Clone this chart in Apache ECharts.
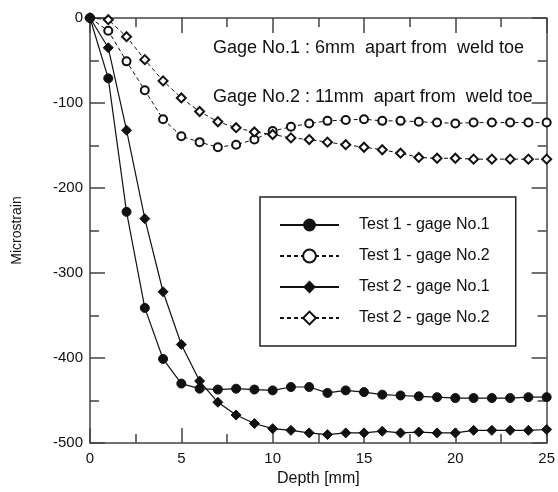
<!DOCTYPE html>
<html>
<head>
<meta charset="utf-8">
<script src="https://cdn.jsdelivr.net/npm/echarts@6/dist/echarts.min.js"></script>
<style>
  html, body { margin: 0; padding: 0; background: #fff; }
  #chart { width: 558px; height: 492px; }
</style>
</head>
<body>
<div id="chart"></div>
<script>
// depth along x, microstrain values
var depth = [0, 1, 2, 3, 4, 5, 6, 7, 8, 9, 10, 11, 12, 13, 14, 15, 16, 17, 18, 19, 20, 21, 22, 23, 24, 25];
var test1Gage1 = [0, -71, -228, -341, -401, -430, -436, -437, -436, -437, -438, -434, -434, -441, -438, -440, -443, -444, -445, -446, -447, -447, -447, -447, -446, -446];
var test1Gage2 = [0, -15, -51, -85, -119, -139, -146, -152, -149, -143, -133, -128, -124, -121, -120, -119, -121, -121, -122, -123, -124, -123, -123, -123, -123, -123];
var test2Gage1 = [0, -35, -132, -236, -322, -384, -427, -452, -467, -477, -483, -485, -488, -490, -488, -488, -486, -488, -487, -488, -488, -485, -485, -485, -485, -484];
var test2Gage2 = [0, -2, -22, -49, -74, -94, -110, -122, -129, -134, -137, -141, -143, -146, -149, -152, -155, -159, -164, -165, -165, -166, -166, -166, -166, -166];
var seriesNames = ['Test 1 - gage No.1', 'Test 1 - gage No.2', 'Test 2 - gage No.1', 'Test 2 - gage No.2'];
var notes = ['Gage No.1 : 6mm  apart from  weld toe', 'Gage No.2 : 11mm  apart from  weld toe'];

var font = 'Liberation Sans, Arial, sans-serif';
var ink = '#111';
var frame = '#444';

function pairs(arr) {
  return depth.map(function (d, i) { return [d, arr[i]]; });
}

var myChart = echarts.init(document.getElementById('chart'), null, { renderer: 'canvas' });

// axis look shared by the four sides (ticks pointing in)
function sideAxis(extra) {
  return Object.assign({
    axisLine: { show: true, onZero: false, lineStyle: { color: frame, width: 1.5 } },
    axisTick: { show: true, inside: true, length: 15, lineStyle: { color: frame, width: 1.5 } },
    minorTick: { show: true, splitNumber: 2, length: 9, lineStyle: { color: frame, width: 1.5 } },
    splitLine: { show: false },
    minorSplitLine: { show: false }
  }, extra);
}

var option = {
  backgroundColor: '#fff',
  animation: false,
  grid: { left: 90, right: 6, top: 18, bottom: 41 },
  xAxis: [
    sideAxis({
      type: 'value', min: 0, max: 25, interval: 5, position: 'bottom',
      name: 'Depth [mm]', nameLocation: 'middle', nameGap: 26,
      nameTextStyle: { fontFamily: font, fontSize: 16, color: ink },
      axisLabel: { fontFamily: font, fontSize: 15, color: ink, margin: 8 }
    }),
    sideAxis({
      type: 'value', min: 0, max: 25, interval: 5, position: 'top',
      axisLabel: { show: false }
    })
  ],
  yAxis: [
    sideAxis({
      type: 'value', min: -500, max: 0, interval: 100, position: 'left',
      name: 'Microstrain', nameLocation: 'middle', nameGap: 66,
      nameTextStyle: { fontFamily: font, fontSize: 14, color: ink },
      axisLabel: { fontFamily: font, fontSize: 15, color: ink, margin: 7 }
    }),
    sideAxis({
      type: 'value', min: -500, max: 0, interval: 100, position: 'right',
      axisLabel: { show: false }
    })
  ],
  legend: {
    orient: 'vertical',
    left: 260,
    top: 197,
    padding: [20, 26, 20, 19],
    borderColor: '#222',
    borderWidth: 1.5,
    itemWidth: 59,
    itemHeight: 16,
    itemGap: 15,
    textStyle: { fontFamily: font, fontSize: 16, color: ink, padding: [0, 0, 0, 15] },
    data: seriesNames
  },
  graphic: [
    { type: 'text', x: 213, y: 48, style: { text: notes[0], font: '18px ' + font, fill: ink, verticalAlign: 'middle' } },
    { type: 'text', x: 213, y: 97, style: { text: notes[1], font: '18px ' + font, fill: ink, verticalAlign: 'middle' } }
  ],
  series: [
    {
      name: seriesNames[0], type: 'line', data: pairs(test1Gage1),
      symbol: 'circle', symbolSize: 9, z: 4,
      lineStyle: { color: ink, width: 1.2, type: 'solid' },
      itemStyle: { color: ink, borderColor: ink }
    },
    {
      name: seriesNames[1], type: 'line', data: pairs(test1Gage2),
      symbol: 'circle', symbolSize: 8, z: 3,
      lineStyle: { color: ink, width: 1, type: [4, 3] },
      itemStyle: { color: '#fff', borderColor: ink, borderWidth: 2 }
    },
    {
      name: seriesNames[2], type: 'line', data: pairs(test2Gage1),
      symbol: 'diamond', symbolSize: 10, z: 4,
      lineStyle: { color: ink, width: 1.2, type: 'solid' },
      itemStyle: { color: ink, borderColor: ink }
    },
    {
      name: seriesNames[3], type: 'line', data: pairs(test2Gage2),
      symbol: 'diamond', symbolSize: 9, z: 3,
      lineStyle: { color: ink, width: 1, type: [4, 3] },
      itemStyle: { color: '#fff', borderColor: ink, borderWidth: 2 }
    }
  ]
};

myChart.setOption(option, true);
</script>
</body>
</html>
